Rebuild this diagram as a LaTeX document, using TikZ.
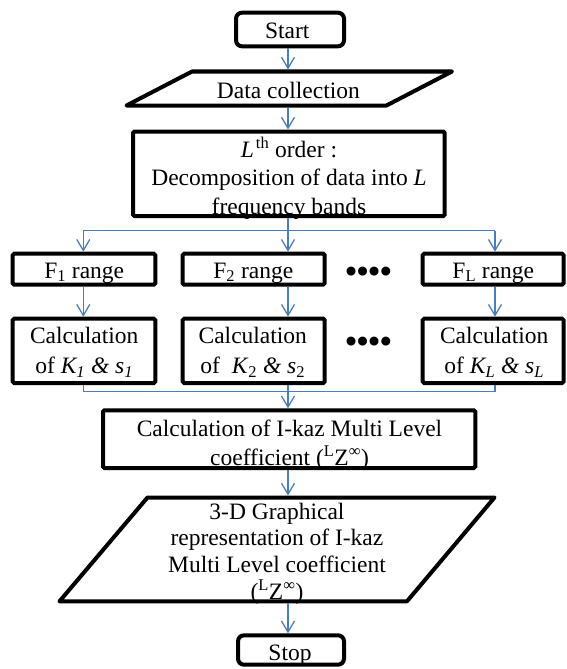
\documentclass[tikz,border=0pt]{standalone}
\usepackage{fontspec}
\setmainfont{Liberation Serif}
\usetikzlibrary{arrows.meta}

\definecolor{linkblue}{HTML}{4A7EBB}

\tikzset{
  box/.style={draw=black, line width=4pt, rounded corners=1.5pt, inner sep=0pt, fill=white},
  termbox/.style={box, rounded corners=6pt},
  shapeline/.style={draw=black, line width=4pt, line join=round, fill=white},
  txt/.style={inner sep=0pt, align=center, font=\fontsize{23.5}{28.3}\selectfont},
  dotrow/.style={inner sep=0pt, font=\fontsize{33}{33}\selectfont\bfseries},
  link/.style={draw=linkblue, line width=1.3pt},
  arr/.style={link, -{Straight Barb[length=11pt, width=13pt, line width=1.3pt]}},
}

\begin{document}
\begin{tikzpicture}[x=1pt, y=-1pt]
  \useasboundingbox (0,0) rectangle (566,669);

  % vertical spine and branch columns
  \coordinate (spine) at (288,0);
  \coordinate (splitL) at (83.3,230.7);
  \coordinate (splitR) at (495,230.7);
  \coordinate (mergeL) at (83.3,391.7);
  \coordinate (mergeR) at (495,391.7);

  % start
  \node[termbox, minimum width=108pt, minimum height=33.6pt] (start) at (290,29.5) {};
  \node[txt] (start-t) at (287.3,31.3) {Start};

  % data collection (input parallelogram)
  \path[shapeline] (192,71.5) -- (452,71.5) -- (386.5,105.5) -- (126.5,105.5) -- cycle;
  \coordinate (dc-n) at (288,69.5);
  \coordinate (dc-s) at (288,107.5);
  \node[txt] (dc-t) at (288.4,90.3) {Data collection};

  % decomposition
  \node[box, minimum width=311.7pt, minimum height=84.5pt] (order) at (288.85,173.75) {};
  \node[txt] (order-t) at (289,178.3)
    {\textit{L}\kern2pt\textsuperscript{th} order :\\Decomposition of data into \textit{L}\\frequency bands};

  % frequency ranges
  \node[box, minimum width=142.6pt, minimum height=31pt] (f1) at (84,269.2) {};
  \node[box, minimum width=142pt, minimum height=31pt] (f2) at (253.7,269.2) {};
  \node[box, minimum width=140.9pt, minimum height=31pt] (fL) at (493.15,269.2) {};
  \node[txt] (f1-t) at (84.2,273) {F\textsubscript{1} range};
  \node[txt] (f2-t) at (253.3,273) {F\textsubscript{2} range};
  \node[txt] (fL-t) at (493.3,273) {F\textsubscript{L} range};
  \node[dotrow] (dots1) at (368.5,275) {••••};

  % K and s per band
  \node[box, minimum width=142.6pt, minimum height=64.3pt] (c1) at (84,350.85) {};
  \node[box, minimum width=142pt, minimum height=64.3pt] (c2) at (253.7,350.85) {};
  \node[box, minimum width=140.9pt, minimum height=64.3pt] (cL) at (493.15,350.85) {};
  \node[txt, font=\fontsize{23.5}{30}\selectfont] (c1-t) at (84.2,352.6)
    {Calculation\\of \textit{K\textsubscript{1} \& s\textsubscript{1}}};
  \node[txt, font=\fontsize{23.5}{30}\selectfont] (c2-t) at (252.8,352.6)
    {Calculation\\of\ \ \textit{K}\textsubscript{2} \textit{\&} \textit{s}\textsubscript{2}};
  \node[txt, font=\fontsize{23.5}{30}\selectfont] (cL-t) at (494.2,352.6)
    {Calculation\\of \textit{K\textsubscript{L} \& s\textsubscript{L}}};
  \node[dotrow] (dots2) at (368.5,345) {••••};

  % I-kaz coefficient
  \node[box, minimum width=372.3pt, minimum height=57.7pt] (ikaz) at (289.15,439.15) {};
  \node[txt, font=\fontsize{23.5}{29}\selectfont] (ikaz-t) at (289.5,445)
    {Calculation of I-kaz Multi Level\\coefficient (\textsuperscript{L}Z\textsuperscript{∞})};

  % 3-D output (parallelogram)
  \path[shapeline] (147.5,497.5) -- (494.5,497.5) -- (407,601.3) -- (59.5,601.3) -- cycle;
  \coordinate (out-n) at (288,495.5);
  \coordinate (out-s) at (288,603.3);
  \node[txt, font=\fontsize{23.5}{26.7}\selectfont] (out-t) at (277,553.5)
    {3-D Graphical\\representation of I-kaz\\Multi Level coefficient\\(\textsuperscript{L}Z\textsuperscript{∞})};

  % stop
  \node[termbox, minimum width=106pt, minimum height=29.4pt] (stop) at (291,650) {};
  \node[txt] (stop-t) at (290,655) {Stop};

  % connectors
  \draw[arr] (start.south -| spine) -- (dc-n);
  \draw[arr] (dc-s) -- (order.north -| spine);
  \draw[link] (order.south -| spine) -- (spine |- splitL);
  \draw[link] (splitL) -- (splitR);
  \draw[arr] (splitL) -- (f1.north -| splitL);
  \draw[arr] (spine |- splitL) -- (f2.north -| spine);
  \draw[arr] (splitR) -- (fL.north -| splitR);
  \draw[arr] (f1.south -| splitL) -- (c1.north -| splitL);
  \draw[arr] (f2.south -| spine) -- (c2.north -| spine);
  \draw[arr] (fL.south -| splitR) -- (cL.north -| splitR);
  \draw[link] (c1.south -| mergeL) -- (mergeL) -- (mergeR) -- (cL.south -| mergeR);
  \draw[link] (c2.south -| spine) -- (spine |- mergeL);
  \draw[arr] (spine |- mergeL) -- (ikaz.north -| spine);
  \draw[arr] (ikaz.south -| spine) -- (out-n);
  \draw[arr] (out-s) -- (stop.north -| spine);
\end{tikzpicture}
\end{document}
